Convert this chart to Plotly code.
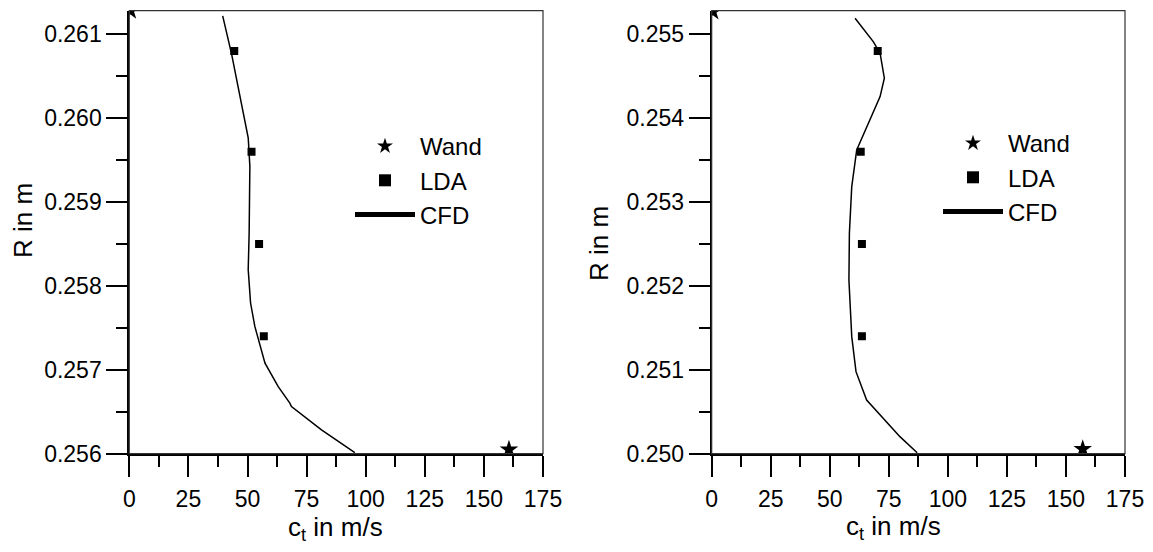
import plotly.graph_objects as go

# ---------------- data ----------------
# Left panel
wand_x_l = [0.5, 160.6]
wand_y_l = [0.26128, 0.25605]
lda_x_l = [44.4, 51.7, 54.9, 56.9]
lda_y_l = [0.2608, 0.2596, 0.2585, 0.2574]
cfd_x_l = [39.5, 43.3, 50.3, 51.0, 50.7, 50.3, 51.3, 53.1, 57.4, 63.0, 67.9, 68.6, 81.3, 95.4]
cfd_y_l = [0.261218, 0.26076, 0.259766, 0.259427, 0.258632, 0.258194, 0.257796,
           0.257517, 0.25708, 0.2568, 0.256602, 0.256561, 0.256283, 0.256012]

# Right panel
wand_x_r = [0.5, 157.1]
wand_y_r = [0.25527, 0.250056]
lda_x_r = [70.3, 63.1, 63.6, 63.6]
lda_y_r = [0.2548, 0.2536, 0.2525, 0.2514]
cfd_x_r = [60.7, 68.4, 71.3, 73.1, 71.3, 65.6, 61.4, 59.3, 58.3, 58.1, 59.3, 61.1, 65.6, 79.7, 87.0]
cfd_y_r = [0.255191, 0.254912, 0.254774, 0.254475, 0.254256, 0.253898, 0.253621,
           0.253183, 0.252628, 0.252071, 0.251395, 0.250978, 0.25064, 0.250203, 0.250012]

x_ticks = [0, 25, 50, 75, 100, 125, 150, 175]
y_ticks_l = [0.256, 0.257, 0.258, 0.259, 0.260, 0.261]
y_ticks_r = [0.250, 0.251, 0.252, 0.253, 0.254, 0.255]

names = ["Wand", "LDA", "CFD"]

FONT = "Arial, Liberation Sans, sans-serif"
W, H = 1153, 552
OFF = 8  # page body margin offset

fig = go.Figure()

def add_panel(xa, ya, legend, wx, wy, lx, ly, cx, cy):
    fig.add_trace(go.Scatter(x=wx, y=wy, mode="markers", name=names[0],
                             marker=dict(symbol="star", size=14, color="black"),
                             xaxis=xa, yaxis=ya, legend=legend))
    fig.add_trace(go.Scatter(x=lx, y=ly, mode="markers", name=names[1],
                             marker=dict(symbol="square", size=8, color="black"),
                             xaxis=xa, yaxis=ya, legend=legend))
    fig.add_trace(go.Scatter(x=cx, y=cy, mode="lines", name=names[2],
                             line=dict(color="black", width=1.5),
                             xaxis=xa, yaxis=ya, legend=legend))

add_panel("x", "y", "legend", wand_x_l, wand_y_l, lda_x_l, lda_y_l, cfd_x_l, cfd_y_l)
add_panel("x2", "y2", "legend2", wand_x_r, wand_y_r, lda_x_r, lda_y_r, cfd_x_r, cfd_y_r)

def px_x(p):
    return (p - OFF) / W

def px_y(p):
    return 1 - (p - OFF) / H

dom_l = [px_x(129.3), px_x(543)]
dom_r = [px_x(711.7), px_x(1125)]
dom_y = [px_y(453.7), px_y(10.7)]

xcommon = dict(range=[0, 175], tickvals=x_ticks, ticks="outside", ticklen=21, tickwidth=2,
               tickcolor="black", showline=True, linecolor="black", linewidth=2,
               showgrid=False, zeroline=False, automargin=False, ticklabelstandoff=3,
               tickfont=dict(family=FONT, size=23, color="black"),
               minor=dict(dtick=12.5, ticks="outside", ticklen=11, tickwidth=2,
                          tickcolor="black", showgrid=False))
ycommon = dict(ticks="outside", ticklen=21, tickwidth=2, tickcolor="black",
               showline=True, linecolor="black", linewidth=2, showgrid=False,
               zeroline=False, tickformat=".3f", automargin=False,
               tickfont=dict(family=FONT, size=23, color="black"),
               minor=dict(dtick=0.0005, ticks="outside", ticklen=11, tickwidth=2,
                          tickcolor="black", showgrid=False))

legcommon = dict(xanchor="left", yanchor="top", font=dict(family=FONT, size=24, color="black"),
                 bgcolor="rgba(0,0,0,0)", itemsizing="constant", tracegroupgap=0,
                 itemwidth=60)

fig.update_layout(
    width=W, height=H,
    margin=dict(l=0, r=0, t=0, b=0, pad=0, autoexpand=False),
    paper_bgcolor="white", plot_bgcolor="white",
    font=dict(family=FONT, color="black"),
    xaxis=dict(domain=dom_l, anchor="y", **xcommon),
    yaxis=dict(domain=dom_y, anchor="x", range=[0.256, 0.26128], tickvals=y_ticks_l, **ycommon),
    xaxis2=dict(domain=dom_r, anchor="y2", **xcommon),
    yaxis2=dict(domain=dom_y, anchor="x2", range=[0.250, 0.25528], tickvals=y_ticks_r, **ycommon),
    legend=dict(x=px_x(350), y=px_y(124), **legcommon),
    legend2=dict(x=px_x(938), y=px_y(121), **legcommon),
    showlegend=True,
)

# plot frames (thin top/right border)
for xr, yr in (("x domain", "y domain"), ("x2 domain", "y2 domain")):
    fig.add_shape(type="rect", xref=xr, yref=yr, x0=0, x1=1, y0=0, y1=1,
                  line=dict(color="#333333", width=1.2), layer="above")

# axis titles
def title(text, px, py, angle=0):
    fig.add_annotation(text=text, x=px_x(px), y=px_y(py), xref="paper", yref="paper",
                       showarrow=False, textangle=angle, xanchor="center", yanchor="middle",
                       font=dict(family=FONT, size=26, color="black"))

title("R in m", 23, 221, -90)
title("R in m", 599, 244, -90)
title("c<sub>t</sub> in m/s", 335, 528)
title("c<sub>t</sub> in m/s", 893, 527)

fig.write_html("out.html")
